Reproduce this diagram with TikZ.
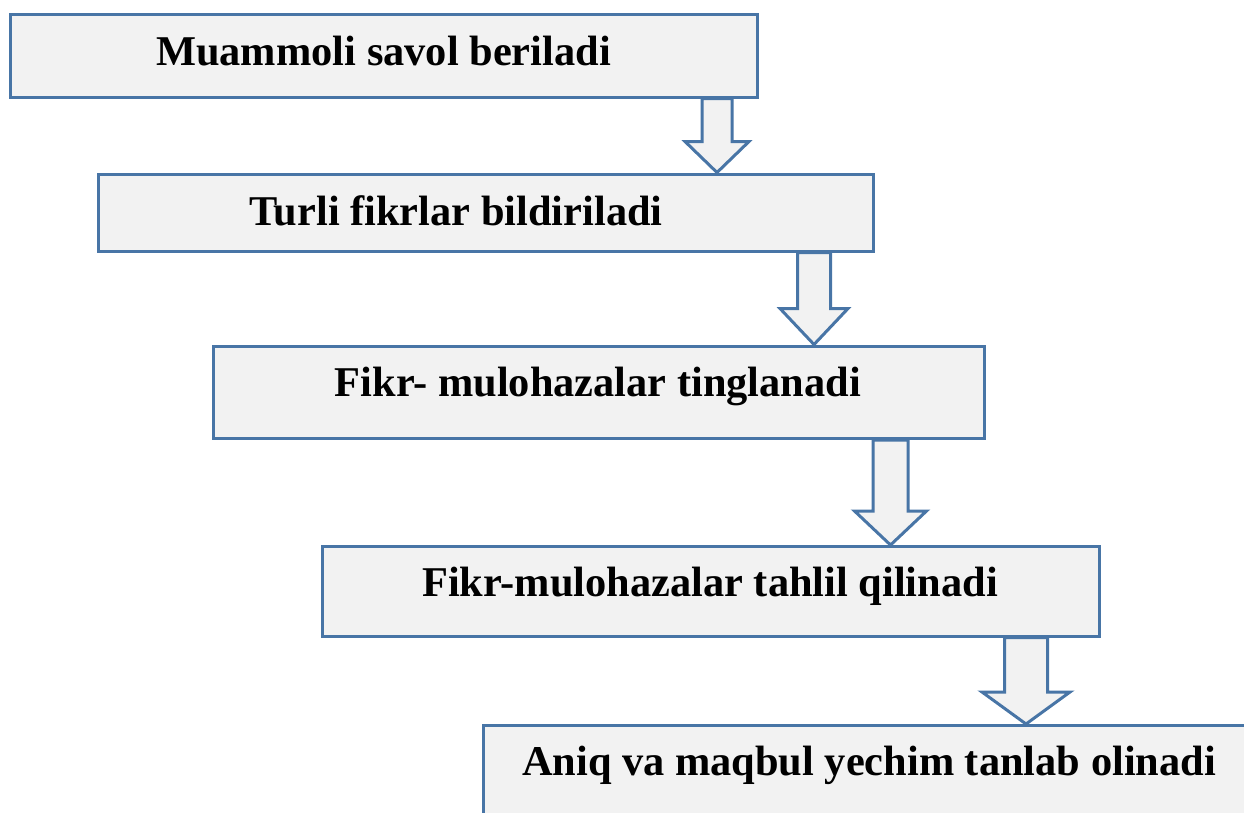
\documentclass[tikz,border=0pt]{standalone}
\usepackage{fontspec}
\setmainfont{Liberation Serif}
\usetikzlibrary{calc}
\definecolor{edgeblue}{RGB}{72,117,166}
\definecolor{boxfill}{RGB}{242,242,242}
\tikzset{
  box/.style={draw=edgeblue, fill=boxfill, line width=3pt, rectangle, inner sep=0pt},
  blk/.style={draw=edgeblue, fill=boxfill, line width=3pt, line join=miter},
  lbl/.style={anchor=base, inner sep=0pt, font=\bfseries\fontsize{42.4}{50}\selectfont}
}
\newcommand\blockarrow[6]{% from, to, x-coordinate name, shaft half width, head half width, head length
  \coordinate (bas) at (#1.south -| #3);
  \coordinate (tip) at (#2.north -| #3);
  \draw[blk] ($(bas)+(-#4,0)$) -- ($(tip)+(-#4,-#6)$) -- ($(tip)+(-#5,-#6)$) -- (tip)
    -- ($(tip)+(#5,-#6)$) -- ($(tip)+(#4,-#6)$) -- ($(bas)+(#4,0)$) -- cycle;
}
\begin{document}
\begin{tikzpicture}[x=1pt,y=-1pt]
\useasboundingbox (0,0) rectangle (1244,812);
\clip (0,0) rectangle (1244,812);
\node[box, minimum width=747pt, minimum height=83pt] (b1) at (383.5,55.5) {};
\node[box, minimum width=775pt, minimum height=77pt] (b2) at (485.5,212.5) {};
\node[box, minimum width=771pt, minimum height=92.5pt] (b3) at (598.5,392.25) {};
\node[box, minimum width=777pt, minimum height=89.5pt] (b4) at (710.5,591.25) {};
\node[box, minimum width=776.5pt, minimum height=104.5pt] (b5) at (871.75,777.75) {};
\node[lbl] (t1) at (383.5,65) {Muammoli savol beriladi};
\node[lbl] (t2) at (456,225) {Turli fikrlar bildiriladi};
\node[lbl] (t3) at (598,396) {Fikr- mulohazalar tinglanadi};
\node[lbl] (t4) at (710,596) {Fikr-mulohazalar tahlil qilinadi};
\node[lbl] (t5) at (869,775) {Aniq va maqbul yechim tanlab olinadi};
\coordinate (x1) at (717,0);
\coordinate (x2) at (814,0);
\coordinate (x3) at (890.5,0);
\coordinate (x4) at (1026,0);
\blockarrow{b1}{b2}{x1}{15}{32}{31}
\blockarrow{b2}{b3}{x2}{16.5}{34}{36}
\blockarrow{b3}{b4}{x3}{17.5}{36}{34}
\blockarrow{b4}{b5}{x4}{21.5}{44}{32}
\end{tikzpicture}
\end{document}
